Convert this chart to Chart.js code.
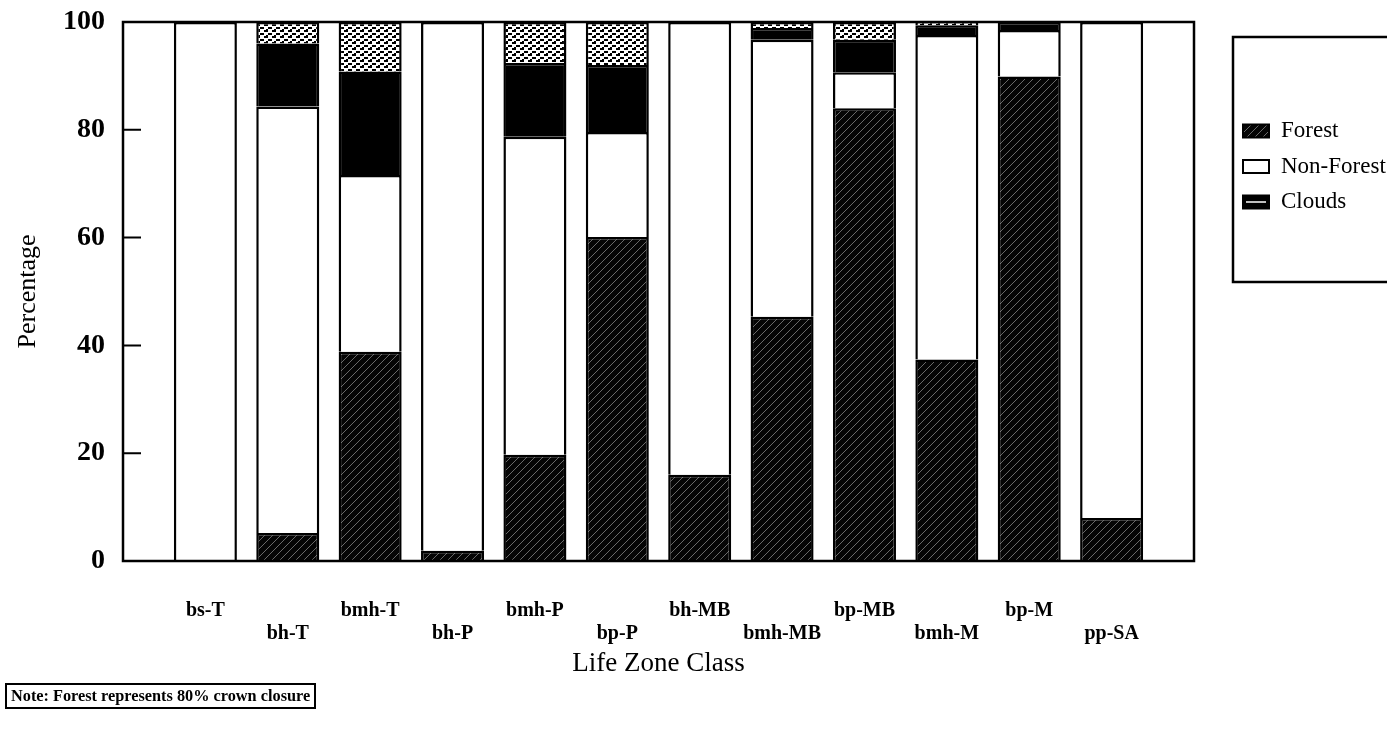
<!DOCTYPE html>
<html>
<head>
<meta charset="utf-8">
<script src="https://cdn.jsdelivr.net/npm/chart.js@4.4.0/dist/chart.umd.min.js"></script>
<style>
  html, body { margin: 0; padding: 0; background: #fff; }
  #wrap { position: relative; width: 1387px; height: 741px; overflow: hidden; }
  #note {
    position: absolute; left: 5px; top: 683px;
    border: 2px solid #000; padding: 1px 4px;
    font: bold 16.3px "Liberation Serif", serif; color: #000; white-space: nowrap;
  }
</style>
</head>
<body>
<div id="wrap">
  <canvas id="chart" width="1387" height="741"></canvas>
  <div id="note">Note: Forest represents 80% crown closure</div>
</div>
<script>
// values (percent of each life zone)
const categories = ['bs-T', 'bh-T', 'bmh-T', 'bh-P', 'bmh-P', 'bp-P', 'bh-MB', 'bmh-MB', 'bp-MB', 'bmh-M', 'bp-M', 'pp-SA'];
const forest     = [0, 5.2, 38.8, 1.9, 19.7, 60.1, 16.0, 45.3, 84.0, 37.4, 89.9, 8.0];
const nonForest  = [100, 79.1, 32.8, 98.1, 59.0, 19.5, 84.0, 51.4, 6.7, 60.2, 8.6, 92.0];
const clouds     = [0, 11.7, 19.2, 0, 13.7, 12.4, 0, 2.2, 6.0, 1.8, 1.5, 0];
// speckled top of the clouds band (badly reproduced in the print), still clouds
const cloudsTop  = [0, 4.0, 9.2, 0, 7.6, 8.0, 0, 1.1, 3.3, 0.6, 0, 0];
const yTicks = [0, 20, 40, 60, 80, 100];

const SERIF = '"Liberation Serif", "Times New Roman", serif';
const canvas = document.getElementById('chart');
const ctx = canvas.getContext('2d');

function makeHatch() {
  const c = document.createElement('canvas');
  c.width = 8; c.height = 8;
  const g = c.getContext('2d');
  g.fillStyle = '#050505';
  g.fillRect(0, 0, 8, 8);
  g.strokeStyle = 'rgba(255,255,255,0.4)';
  g.lineWidth = 1;
  g.beginPath();
  g.moveTo(0, 8); g.lineTo(8, 0);
  g.stroke();
  return ctx.createPattern(c, 'repeat');
}

function makeSpeckle() {
  const c = document.createElement('canvas');
  c.width = 8; c.height = 6;
  const g = c.getContext('2d');
  g.fillStyle = '#fff';
  g.fillRect(0, 0, 8, 6);
  g.fillStyle = '#000';
  g.fillRect(0, 0, 4, 2);
  g.fillRect(4, 3, 4, 2);
  g.fillRect(2, 5, 2, 1);
  return ctx.createPattern(c, 'repeat');
}

const hatch = makeHatch();
const speckle = makeSpeckle();

// one empty slot each side, like the original axis
const labels = ['', ...categories, ''];
const pad = arr => [null, ...arr, null];

const frame = {
  id: 'frame',
  afterDraw(chart) {
    const { left, top, right, bottom } = chart.chartArea;
    const c = chart.ctx;
    c.save();
    c.strokeStyle = '#000';
    c.lineWidth = 2.5;
    c.strokeRect(left, top, right - left, bottom - top);
    // y tick marks point into the plot
    const ys = chart.scales.y;
    c.beginPath();
    ys.ticks.forEach(t => {
      const py = ys.getPixelForValue(t.value);
      c.moveTo(left, py);
      c.lineTo(left + 18, py);
    });
    c.lineWidth = 2;
    c.stroke();
    c.restore();
  }
};

const legendBox = {
  id: 'legendBox',
  afterDraw(chart) {
    const c = chart.ctx;
    const x0 = chart.chartArea.right + 39;
    const y0 = 37;
    c.save();
    c.strokeStyle = '#000';
    c.lineWidth = 2.5;
    c.strokeRect(x0, y0, 400, 245);
    c.font = '23px ' + SERIF;
    c.textBaseline = 'middle';
    c.textAlign = 'left';
    chart.data.datasets.slice(0, 3).forEach((ds, i) => {
      const y = y0 + 94 + i * 35.5;
      const sx = x0 + 10, sw = 26, sh = 13;
      c.fillStyle = ds.backgroundColor;
      c.fillRect(sx, y - sh / 2, sw, sh);
      c.lineWidth = 2;
      c.strokeStyle = '#000';
      c.strokeRect(sx, y - sh / 2, sw, sh);
      if (ds.label === 'Clouds') {
        c.strokeStyle = '#fff';
        c.lineWidth = 1.5;
        c.beginPath();
        c.moveTo(sx + 3, y); c.lineTo(sx + sw - 3, y);
        c.stroke();
      }
      c.fillStyle = '#000';
      c.fillText(ds.label, x0 + 48, y);
    });
    c.restore();
  }
};

new Chart(canvas, {
  type: 'bar',
  data: {
    labels: labels,
    datasets: [
      { label: 'Forest', data: pad(forest), backgroundColor: hatch },
      { label: 'Non-Forest', data: pad(nonForest), backgroundColor: '#fff' },
      { label: 'Clouds', data: pad(clouds), backgroundColor: '#000' },
      { label: 'Clouds ', data: pad(cloudsTop), backgroundColor: speckle }
    ]
  },
  options: {
    responsive: false,
    animation: false,
    devicePixelRatio: 1,
    layout: { padding: { top: 22, right: 193, bottom: 60, left: 0 } },
    datasets: {
      bar: {
        borderColor: '#000',
        borderWidth: 2.5,
        barPercentage: 0.765,
        categoryPercentage: 1
      }
    },
    plugins: {
      legend: { display: false },
      tooltip: { enabled: false }
    },
    scales: {
      x: {
        stacked: true,
        offset: false,
        border: { display: false },
        grid: { display: true, color: 'rgba(0,0,0,0)', drawOnChartArea: false, drawTicks: true, tickLength: 33 },
        ticks: {
          autoSkip: false,
          maxRotation: 0,
          padding: 5,
          color: '#000',
          font: { family: SERIF, size: 20, weight: 'bold', lineHeight: 1.15 },
          callback: (v, i) => {
            const name = labels[i];
            if (!name) return '';
            return i % 2 === 1 ? [name, ''] : ['', name];
          }
        },
        title: {
          display: true,
          text: 'Life Zone Class',
          color: '#000',
          font: { family: SERIF, size: 27, lineHeight: 1.2 },
          padding: { top: 0, bottom: 1 }
        },
        afterFit: s => { s.height = 120; s.paddingLeft = 0; s.paddingRight = 0; }
      },
      y: {
        stacked: true,
        min: 0,
        max: 100,
        border: { display: false },
        grid: { display: false, drawTicks: false },
        afterBuildTicks: s => { s.ticks = yTicks.map(v => ({ value: v })); },
        ticks: {
          padding: 18,
          color: '#000',
          font: { family: SERIF, size: 28, weight: 'bold' }
        },
        title: {
          display: true,
          text: 'Percentage',
          color: '#000',
          font: { family: SERIF, size: 26, lineHeight: 1.2 },
          padding: { top: 12.4, bottom: 0 }
        },
        afterFit: s => { s.width = 123; s.paddingTop = 0; s.paddingBottom = 0; }
      }
    }
  },
  plugins: [frame, legendBox]
});
</script>
</body>
</html>
